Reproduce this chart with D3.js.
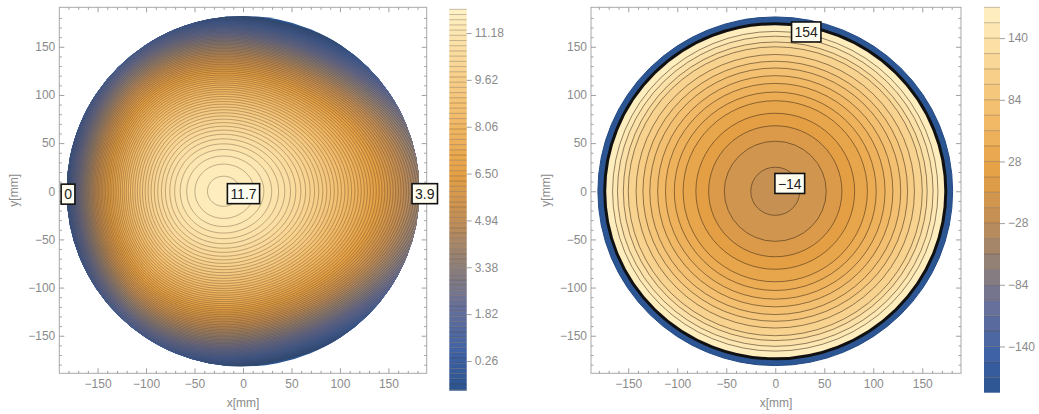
<!DOCTYPE html>
<html>
<head>
<meta charset="utf-8">
<script src="https://cdn.jsdelivr.net/npm/d3@7"></script>
<style>
  body { margin: 0; background: #fff; }
  svg { display: block; font-family: "Liberation Sans", Arial, sans-serif; }
  .tick text { fill: #8a8a8a; font-size: 12px; }
  .tick line { stroke: #a0a0a0; }
  .axis-title { fill: #8a8a8a; font-size: 12px; }
  .lbl text { font-size: 14px; fill: #222; }
</style>
</head>
<body>
<svg id="chart" width="1039" height="414"></svg>
<script>
  // ---- data ----
  const axisTicks = [-150, -100, -50, 0, 50, 100, 150];
  const minorTicks = [-180, -170, -160, -140, -130, -120, -110, -90, -80, -70, -60, -40, -30, -20, -10,
                      10, 20, 30, 40, 60, 70, 80, 90, 110, 120, 130, 140, 160, 170, 180];

  // left map: peak position/value, fall-off, x stretch (base, skew), y stretch
  const leftPeak = [-20, 0, 11.7];
  const leftFalloff = [2.9e-4, 1.46e-9];
  const leftStretch = [0.96, 0.00108, 1.04];
  const leftDisk = 182;
  const leftBarRange = [-0.73, 11.97];
  const leftStep = 0.1733;
  const leftBarTicks = [0.26, 1.82, 3.38, 4.94, 6.50, 8.06, 9.62, 11.18];
  const leftLabels = [
    { x: -180.5, y: -3, text: "0" },
    { x: 0.5, y: -2.5, text: "11.7" },
    { x: 187.5, y: -2.5, text: "3.9" }
  ];

  // right map: ring contour levels and their radii (mm)
  const rightLevels = [-14, -2, 10, 22, 34, 46, 58, 70, 82, 94, 106, 118, 130, 142, 154];
  const rightRadii = [25, 52, 68, 81, 94, 103, 112, 120, 128, 135, 142, 150, 155, 161, 166];
  const rightCenterValue = -20;
  const rightRimRadius = 174;     // black rim where values jump
  const rightOuterRadius = 181;
  const rightOuterValue = -178;
  const rightBarRange = [-182, 168];
  const rightStep = 14;
  const rightBarTicks = [-140, -84, -28, 28, 84, 140];
  const rightLabels = [
    { x: 31.6, y: 165.4, text: "154" },
    { x: 14.8, y: 8.1, text: "\u221214" }
  ];

  const paletteStops = [0, 0.10, 0.22, 0.33, 0.45, 0.57, 0.70, 0.83, 1];
  const paletteColors = ["#2a5490", "#3f62a6", "#66709a", "#8f8078", "#c38e55",
                         "#e5a044", "#f1b865", "#f8d18c", "#fff2c6"];

  const svg = d3.select("#chart");
  const palette = d3.scaleLinear().domain(paletteStops).range(paletteColors).clamp(true);
  const lineColor = "rgba(70,50,30,0.38)";

  function colorFor(range) {
    return v => palette((v - range[0]) / (range[1] - range[0]));
  }

  function drawFrame(g, x, y) {
    const [x0, x1] = x.range(), [y0, y1] = y.range();
    g.append("rect").attr("x", x0).attr("y", y1).attr("width", x1 - x0).attr("height", y0 - y1)
      .attr("fill", "none").attr("stroke", "#a8a8a8");
    const fmt = d => d3.format("d")(d);
    const axes = [
      [d3.axisBottom(x).tickValues(axisTicks).tickSize(-5).tickPadding(6).tickFormat(fmt), 0, y0],
      [d3.axisTop(x).tickValues(axisTicks).tickSize(-5).tickFormat(""), 0, y1],
      [d3.axisLeft(y).tickValues(axisTicks).tickSize(-5).tickPadding(4).tickFormat(fmt), x0, 0],
      [d3.axisRight(y).tickValues(axisTicks).tickSize(-5).tickFormat(""), x1, 0],
      [d3.axisBottom(x).tickValues(minorTicks).tickSize(-2.5).tickFormat(""), 0, y0],
      [d3.axisTop(x).tickValues(minorTicks).tickSize(-2.5).tickFormat(""), 0, y1],
      [d3.axisLeft(y).tickValues(minorTicks).tickSize(-2.5).tickFormat(""), x0, 0],
      [d3.axisRight(y).tickValues(minorTicks).tickSize(-2.5).tickFormat(""), x1, 0]
    ];
    axes.forEach(([ax, tx, ty]) => {
      const a = g.append("g").attr("transform", `translate(${tx},${ty})`).call(ax);
      a.select(".domain").remove();
    });
    g.append("text").attr("class", "axis-title").attr("x", (x0 + x1) / 2).attr("y", 407)
      .attr("text-anchor", "middle").text("x[mm]");
    g.append("text").attr("class", "axis-title")
      .attr("transform", `translate(${x0 - 41},${(y0 + y1) / 2}) rotate(-90)`)
      .attr("text-anchor", "middle").text("y[mm]");
  }

  function drawBar(g, range, step, ticks, fmt, left, top, bottom, width) {
    const col = colorFor(range);
    const by = d3.scaleLinear().domain(range).range([bottom, top]);
    const bounds = d3.range(range[1], range[0], -step).reverse();
    if (bounds[0] > range[0]) bounds.unshift(range[0]);
    bounds.forEach((lo, i) => {
      const hi = i + 1 < bounds.length ? bounds[i + 1] : range[1];
      g.append("rect").attr("x", left).attr("width", width)
        .attr("y", by(hi)).attr("height", by(lo) - by(hi))
        .attr("fill", col((lo + hi) / 2));
      if (i > 0) g.append("line").attr("x1", left).attr("x2", left + width)
        .attr("y1", by(lo)).attr("y2", by(lo)).attr("stroke", lineColor).attr("stroke-width", 0.8);
    });
    const ax = g.append("g").attr("transform", `translate(${left + width},0)`)
      .call(d3.axisRight(by).tickValues(ticks).tickSize(5).tickPadding(3).tickFormat(fmt));
    ax.select(".domain").remove();
  }

  function drawLabels(g, x, y, labels) {
    labels.forEach(d => {
      const lg = g.append("g").attr("class", "lbl");
      const t = lg.append("text").attr("x", x(d.x)).attr("y", y(d.y))
        .attr("text-anchor", "middle").attr("dy", "0.36em").text(d.text);
      const w = t.node().getComputedTextLength() + 6;
      lg.insert("rect", "text").attr("x", x(d.x) - w / 2).attr("y", y(d.y) - 10)
        .attr("width", w).attr("height", 20)
        .attr("fill", "#fffdf0").attr("stroke", "#111").attr("stroke-width", 1.6);
    });
  }

  // ---------- left plot ----------
  const xL = d3.scaleLinear().domain([-189.5, 189.5]).range([59.3, 426.7]);
  const yL = d3.scaleLinear().domain([-189, 191]).range([373.3, 7.3]);
  const gL = svg.append("g");
  const colL = colorFor(leftBarRange);

  function leftValue(x, y) {
    const u = x - leftPeak[0];
    const dx = u * leftStretch[0] * Math.exp(-leftStretch[1] * u);
    const dy = (y - leftPeak[1]) * leftStretch[2];
    const d2 = dx * dx + dy * dy;
    return leftPeak[2] - leftFalloff[0] * d2 - leftFalloff[1] * d2 * d2;
  }

  const g0 = -190, n = 381;
  const grid = new Array(n * n);
  for (let j = 0; j < n; j++)
    for (let i = 0; i < n; i++) grid[j * n + i] = leftValue(g0 + i, g0 + j);

  const leftBounds = d3.range(leftBarRange[1] - leftStep, leftBarRange[0], -leftStep).reverse();
  const contours = d3.contours().size([n, n]).thresholds(leftBounds)(grid);
  const projL = d3.geoTransform({
    point: function (gx, gy) { this.stream.point(xL(g0 + gx - 0.5), yL(g0 + gy - 0.5)); }
  });
  const pathL = d3.geoPath(projL);

  gL.append("clipPath").attr("id", "diskL").append("ellipse")
    .attr("cx", xL(0)).attr("cy", yL(0))
    .attr("rx", xL(leftDisk) - xL(0)).attr("ry", yL(0) - yL(leftDisk));
  const disk = gL.append("g").attr("clip-path", "url(#diskL)");
  disk.append("rect").attr("x", xL(-leftDisk)).attr("y", yL(leftDisk))
    .attr("width", xL(leftDisk) - xL(-leftDisk)).attr("height", yL(-leftDisk) - yL(leftDisk))
    .attr("fill", colL(leftBarRange[0]));
  disk.selectAll("path.band").data(contours).join("path").attr("class", "band")
    .attr("d", pathL).attr("fill", d => colL(d.value + leftStep / 2));
  disk.selectAll("path.line").data(contours).join("path").attr("class", "line")
    .attr("d", pathL).attr("fill", "none").attr("stroke", lineColor).attr("stroke-width", 0.9);

  drawFrame(gL, xL, yL);
  drawBar(gL, leftBarRange, leftStep, leftBarTicks, d3.format(".2f"), 449.3, 9.3, 390.7, 17.4);
  drawLabels(gL, xL, yL, leftLabels);

  // ---------- right plot ----------
  const xR = d3.scaleLinear().domain([-188, 189.5]).range([591, 961]);
  const yR = d3.scaleLinear().domain([-189, 191]).range([373.3, 7.3]);
  const gR = svg.append("g");
  const colR = colorFor(rightBarRange);
  const ell = (sel, r) => sel.attr("cx", xR(0)).attr("cy", yR(0))
    .attr("rx", xR(r) - xR(0)).attr("ry", yR(0) - yR(r));

  gR.append("ellipse").call(ell, rightOuterRadius).attr("fill", colR(rightOuterValue))
    .attr("stroke", "#224a85").attr("stroke-width", 1);
  gR.append("ellipse").call(ell, rightRimRadius)
    .attr("fill", colR(rightLevels[rightLevels.length - 1] + 6))
    .attr("stroke", "#111").attr("stroke-width", 3);
  for (let k = rightRadii.length - 1; k >= 0; k--) {
    const inner = k > 0 ? (rightLevels[k - 1] + rightLevels[k]) / 2 : rightCenterValue;
    gR.append("ellipse").call(ell, rightRadii[k]).attr("fill", colR(inner))
      .attr("stroke", "rgba(60,40,20,0.55)").attr("stroke-width", 1);
  }

  drawFrame(gR, xR, yR);
  drawBar(gR, rightBarRange, rightStep, rightBarTicks, d3.format("d"), 984, 7.3, 392.7, 16);
  drawLabels(gR, xR, yR, rightLabels);
</script>
</body>
</html>
